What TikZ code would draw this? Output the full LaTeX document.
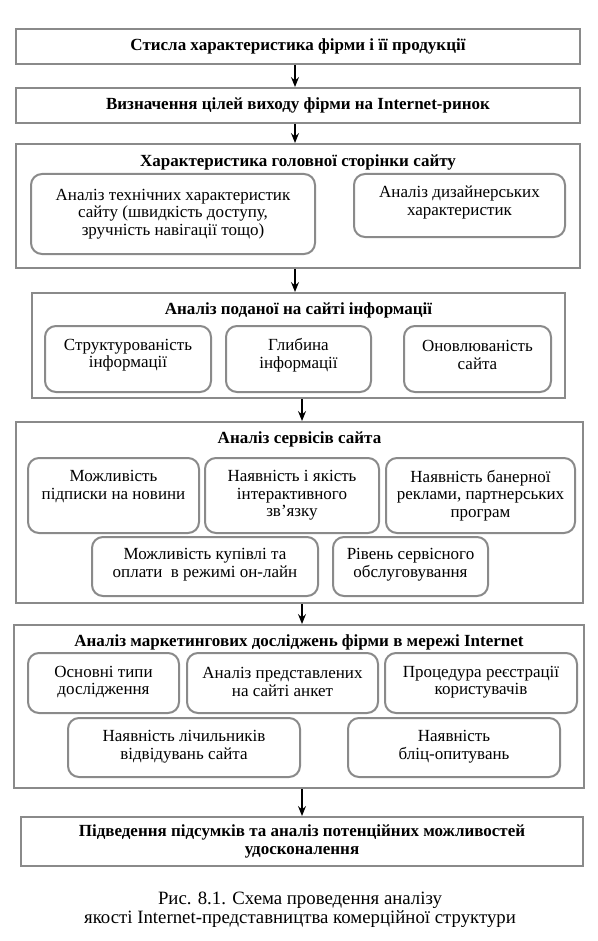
\documentclass[tikz,border=0pt]{standalone}
\usepackage{fontspec}
\setmainfont{Liberation Serif}
\usetikzlibrary{arrows.meta}
\definecolor{framegray}{HTML}{8A8A8A}
\tikzset{
  x=1pt, y=-1pt,
  obox/.style={draw=framegray, line width=2pt, inner sep=0pt},
  ibox/.style={draw=framegray, line width=2pt, rounded corners=11pt, inner sep=0pt},
  itext/.style={inner sep=0pt, align=center, font=\fontsize{17}{17.5}\selectfont},
  ttl/.style={inner sep=0pt, align=center, font=\bfseries\fontsize{17}{18.5}\selectfont},
  arr/.style={-{Stealth[length=10pt,width=8pt,inset=3.5pt]}, line width=1.2pt, black},
  capt/.style={inner sep=0pt, align=center, font=\fontsize{18.8}{18.5}\selectfont}
}
\newcommand\OBox[5]{\node[obox, minimum width={#4-#2}, minimum height={#5-#3}] (#1) at ({(#2+#4)/2},{(#3+#5)/2}) {};}
% name, x1, y1, x2, y2, text yshift (pt, up), text
\newcommand\IBox[7]{\node[ibox, minimum width={#4-#2}, minimum height={#5-#3}] (#1) at ({(#2+#4)/2},{(#3+#5)/2}) {};
  \node[itext] (#1-t) at ([yshift=#6]#1.center) {#7};}
\begin{document}
\begin{tikzpicture}
\useasboundingbox (0,0) rectangle (597,941);
\fill[white] (0,0) rectangle (597,941);
% box 1
\OBox{b1}{16}{29}{580}{64}
\node[ttl] (t1) at (b1.center) {Стисла характеристика фірми і її продукції};
% box 2
\OBox{b2}{16}{88}{580}{123}
\node[ttl] (t2) at (b2.center) {Визначення цілей виходу фірми на Internet-ринок};
% box 3
\OBox{b3}{16}{144}{580}{268}
\node[ttl] (t3) at (298,162) {Характеристика головної сторінки сайту};
\IBox{b3a}{31}{174}{315}{254}{0pt}{Аналіз технічних характеристик\\сайту (швидкість доступу,\\зручність навігації тощо)}
\IBox{b3b}{354}{174}{565}{237}{3pt}{Аналіз дизайнерських\\характеристик}
% box 4
\OBox{b4}{32}{293}{565}{398}
\node[ttl] (t4) at (298.5,310) {Аналіз поданої на сайті інформації};
\IBox{b4a}{45}{326}{211}{392}{4pt}{Структурованість\\інформації}
\IBox{b4b}{226}{326}{371}{392}{4pt}{Глибина\\інформації}
\IBox{b4c}{404}{326}{551}{392}{4pt}{Оновлюваність\\сайта}
% box 5
\OBox{b5}{16}{422}{583}{603}
\node[ttl] (t5) at (299.5,439) {Аналіз сервісів сайта};
\IBox{b5a}{28}{458}{199}{533}{9pt}{Можливість\\підписки на новини}
\IBox{b5b}{205}{458}{379}{533}{0pt}{Наявність і якість\\інтерактивного\\зв’язку}
\IBox{b5c}{386}{458}{575}{533}{0pt}{Наявність банерної\\реклами, партнерських\\програм}
\IBox{b5d}{92}{537}{318}{596}{2pt}{Можливість купівлі та\\оплати~ в режимі он-лайн}
\IBox{b5e}{333}{537}{488}{596}{2pt}{Рівень сервісного\\обслуговування}
% box 6
\OBox{b6}{14}{625}{584}{788}
\node[ttl] (t6) at (299,642) {Аналіз маркетингових досліджень фірми в мережі Internet};
\IBox{b6a}{28}{653}{179}{713}{1pt}{Основні типи\\дослідження}
\IBox{b6b}{187}{653}{378}{713}{1pt}{Аналіз представлених\\на сайті анкет}
\IBox{b6c}{385}{653}{577}{713}{1pt}{Процедура реєстрації\\користувачів}
\IBox{b6d}{68}{718}{300}{777}{1pt}{Наявність лічильників\\відвідувань сайта}
\IBox{b6e}{348}{718}{560}{777}{1pt}{Наявність\\бліц-опитувань}
% box 7
\OBox{b7}{21}{817}{583}{866}
\node[ttl] (t7) at (b7.center) {Підведення підсумків та аналіз потенційних можливостей\\удосконалення};
% caption
\node[capt] (cap) at (300,910) {Рис. 8.1. Схема проведення аналізу\\якості Internet-представництва комерційної структури};
% arrows
\coordinate (xa) at (295,0);
\coordinate (xb) at (302,0);
\draw[arr] (b1.south -| xa) -- (b2.north -| xa);
\draw[arr] (b2.south -| xa) -- (b3.north -| xa);
\draw[arr] (b3.south -| xa) -- (b4.north -| xa);
\draw[arr] (b4.south -| xb) -- (b5.north -| xb);
\draw[arr] (b5.south -| xb) -- (b6.north -| xb);
\draw[arr] (b6.south -| xb) -- (b7.north -| xb);
\end{tikzpicture}
\end{document}
